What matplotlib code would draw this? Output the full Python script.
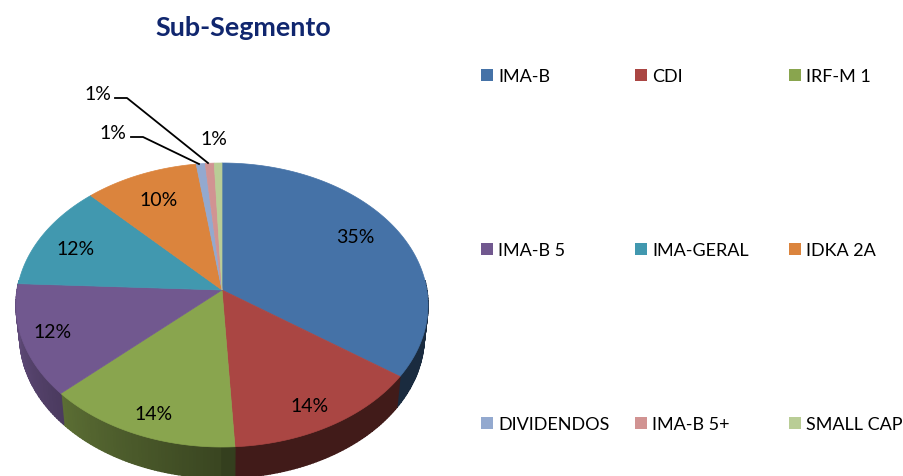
import numpy as np
import matplotlib
matplotlib.use('Agg')
import matplotlib.pyplot as plt

plt.rcParams['font.family'] = ['Lato', 'DejaVu Sans']

title = 'Sub-Segmento'
segments = ['IMA-B', 'CDI', 'IRF-M 1', 'IMA-B 5', 'IMA-GERAL', 'IDKA 2A',
            'DIVIDENDOS', 'IMA-B 5+', 'SMALL CAP']
shares = [33.4, 15.6, 15.3, 13.1, 11.6, 9.0, 0.7, 0.7, 0.6]
pct_labels = ['35%', '14%', '14%', '12%', '12%', '10%', '1%', '1%', '1%']
colors = ['#4572A7', '#AA4643', '#89A54E', '#71588F', '#4198AF', '#DB843D',
          '#93A9CF', '#D19392', '#B9CD96']

cx, cy = 222, 306
apex_y = 291
rx, ry = 206, 142
depth = 31


def rim(theta, scale=1.0, drop=0):
    rad = np.radians(theta)
    return cx + rx*scale*np.sin(rad), cy - ry*np.cos(rad) + drop


def shade(theta):
    # side wall gets lighter going round to the left
    return 0.38 if theta < 180 else 0.42 + (theta - 180)/90*0.43


fig = plt.figure(figsize=(9.04, 4.77), dpi=100)
ax = fig.add_axes([0, 0, 1, 1])
ax.set_xlim(0, 904)
ax.set_ylim(477, 0)
ax.axis('off')

edges = np.concatenate([[0], np.cumsum(shares)])/np.sum(shares)*360

# side wall, drawn in thin strips
for c, a0, a1 in zip(colors, edges[:-1], edges[1:]):
    lo, hi = max(a0, 80), min(a1, 280)
    if hi <= lo:
        continue
    for t in np.arange(lo, hi, 1.0):
        ts = np.linspace(t, min(t + 1.0, hi), 3)
        x1, y1 = rim(ts)
        x2, y2 = rim(ts, 0.982, depth)
        rgb = np.array(matplotlib.colors.to_rgb(c))*shade(t)
        ax.fill(np.r_[x1, x2[::-1]], np.r_[y1, y2[::-1]], fc=rgb, ec=rgb, lw=1.0)

# top face
for c, a0, a1 in zip(colors, edges[:-1], edges[1:]):
    x, y = rim(np.linspace(a0, a1, 120))
    ax.fill(np.r_[cx, x], np.r_[apex_y, y], color=c, lw=0.5)

# slice labels
label_x = [355, 310, 154, 53, 76, 159, 98, 113, 214]
label_y = [238, 407, 415, 333, 250, 201, 94, 134, 140]
for s, x, y in zip(pct_labels, label_x, label_y):
    ax.text(x, y, s, ha='center', va='center', fontsize=14, color='k')

# leader lines
ax.plot([115, 127, 208], [99, 99, 164], color='k', lw=1.3)
ax.plot([131, 143, 199], [138, 138, 165], color='k', lw=1.3)

ax.text(243, 28, title, ha='center', va='center', fontsize=19.4,
        fontweight='bold', color='#10266E')

# legend grid
for i, (name, c) in enumerate(zip(segments, colors)):
    lx = 487 + 154*(i % 3)
    ly = 76 + 174*(i//3)
    ax.plot(lx, ly, marker='s', ms=8.6, mfc=c, mec=c, mew=0, ls='none')
    ax.text(lx + 11, ly + 1, name, ha='left', va='center', fontsize=13, color='k')

fig.savefig('out.png', dpi=100)
